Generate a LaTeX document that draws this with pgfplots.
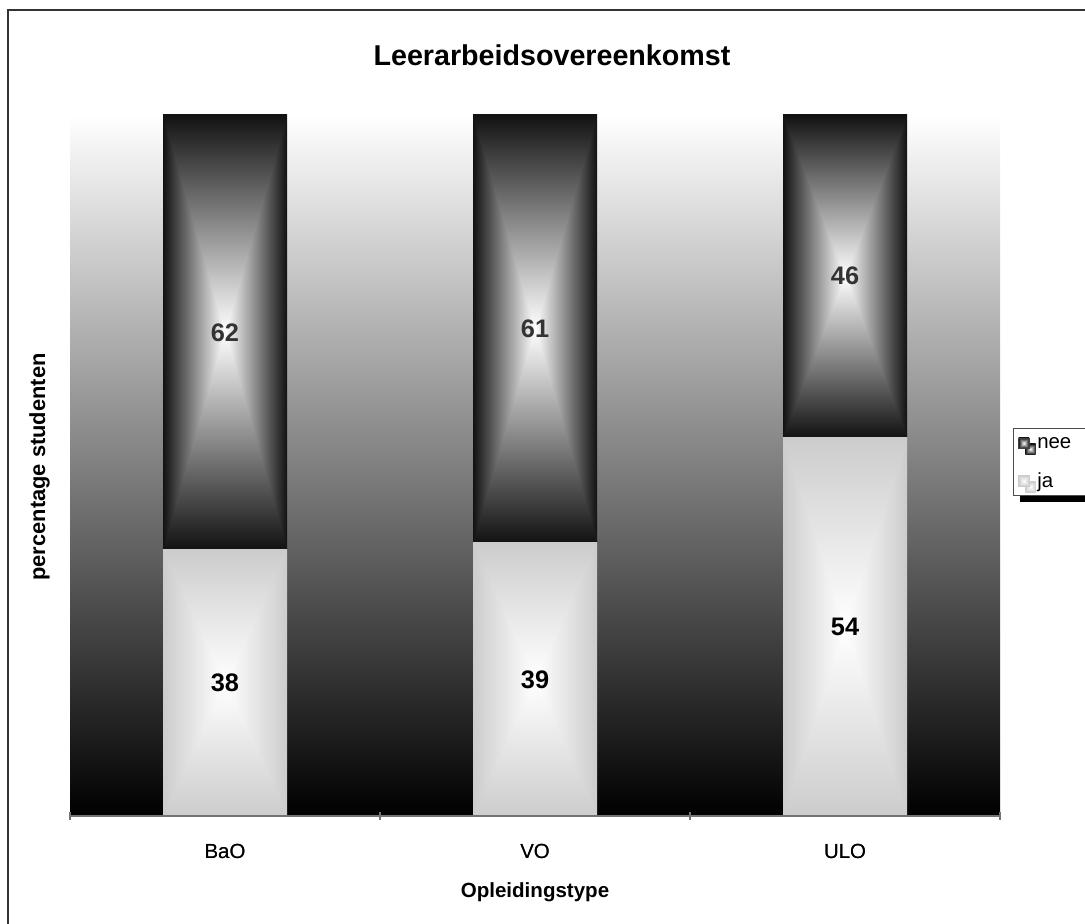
\documentclass[border=0pt]{standalone}
\usepackage{fontspec}
\setmainfont{Liberation Sans}
\usepackage{pgfplots}
\pgfplotsset{compat=1.18}
\usetikzlibrary{shadows}

\pgfdeclarefunctionalshading{neeshade}{\pgfpoint{-50bp}{-50bp}}{\pgfpoint{50bp}{50bp}}{}{
  abs exch abs 2 copy lt {exch} if pop 25 div dup 1 gt {pop 1} if
  1 exch sub 0.93 mul 0.07 add dup dup
}
\pgfdeclarefunctionalshading{jashade}{\pgfpoint{-50bp}{-50bp}}{\pgfpoint{50bp}{50bp}}{}{
  abs exch abs 2 copy lt {exch} if pop 25 div dup 1 gt {pop 1} if
  0.2 mul 1 exch sub dup dup
}

\pgfplotsset{
  base/.style={
    at={(52.5pt,81pt)}, anchor=south west, scale only axis,
    width=697.5pt, height=525.75pt,
    xmin=-0.5, xmax=2.5, ymin=0, ymax=100,
  },
  lineaxis/.style={
    xtick={0,1,2}, xticklabels={BaO,VO,ULO},
    major tick length=0pt,
    minor xtick={-0.5,0.5,1.5,2.5}, minor tick length=6pt, tick align=outside,
    ytick=\empty,
    axis x line=bottom, axis y line=none,
    x axis line style={-, draw=black!55, line width=1pt},
    every minor tick/.style={draw=black!55, line width=0.8pt},
    xticklabel style={font=\fontsize{15.3}{18}\selectfont, anchor=base, yshift=-32.25pt},
  },
  ja/.style={shade, shading=jashade, draw=none},
  nee/.style={shade, shading=neeshade, draw=none},
}

\begin{document}
\begin{tikzpicture}[x=0.75pt,y=0.75pt]
\begin{scope}
\clip (0,0) rectangle (1085,924);
\draw[line width=1.6pt, black!80] (8,-5) -- (8,914) -- (1095,914);
\node[anchor=base, font=\bfseries\fontsize{21.5}{26}\selectfont] at (552,858) {Leerarbeidsovereenkomst};
\node[anchor=base, font=\bfseries\fontsize{15.4}{18}\selectfont] at (535,26) {Opleidingstype};
\node[anchor=base, rotate=90, font=\bfseries\fontsize{16.4}{18}\selectfont] at (45,457) {percentage studenten};

% BaO + background + legend
\begin{axis}[base, lineaxis,
  ybar stacked, bar width=0.4,
  axis background/.style={shade, top color=white, bottom color=black},
  reverse legend,
  legend style={at={(1.014,0.5535)}, anchor=north west, draw=black!70, fill=white,
    font=\fontsize{15.3}{18}\selectfont, inner xsep=3pt, inner ysep=3pt, row sep=12pt,
    general shadow={fill=black, shadow xshift=5pt, shadow yshift=-4.5pt},
    legend cell align=left},
]
\addplot[ja,
  legend image code/.code={\path (-1pt,0pt); \draw[shade, shading=jashade, draw=black!20] (0pt,-4pt) rectangle (7.8pt,3.8pt); \path (12pt,0pt);}]
  coordinates {(0,38)};
\addlegendentry{ja\phantom{MMM}}
\addplot[nee,
  legend image code/.code={\path (-1pt,0pt); \draw[shade, shading=neeshade, draw=black!75] (0pt,-4pt) rectangle (7.8pt,3.8pt); \path (12pt,0pt);}]
  coordinates {(0,62)};
\addlegendentry{nee\phantom{MM}}
\end{axis}

% VO
\begin{axis}[base, hide axis, ybar stacked, bar width=0.4]
\addplot[ja] coordinates {(1,39)};
\addplot[nee] coordinates {(1,61)};
\end{axis}

% ULO
\begin{axis}[base, hide axis, ybar stacked, bar width=0.4]
\addplot[ja] coordinates {(2,54)};
\addplot[nee] coordinates {(2,46)};
\end{axis}

% value labels and axis line on top
\begin{axis}[base, lineaxis]
\addplot[only marks, mark=none, nodes near coords, point meta=explicit symbolic,
  nodes near coords style={anchor=center, font=\bfseries\fontsize{19}{22}\selectfont, text=black}]
  coordinates {(0,19) [38] (1,19.5) [39] (2,27) [54]};
\addplot[only marks, mark=none, nodes near coords, point meta=explicit symbolic,
  nodes near coords style={anchor=center, font=\bfseries\fontsize{19}{22}\selectfont, text=black!80}]
  coordinates {(0,69) [62] (1,69.5) [61] (2,77) [46]};
\end{axis}
\end{scope}
\pgfresetboundingbox
\path[use as bounding box] (0,0) rectangle (1085,924);
\end{tikzpicture}
\end{document}
